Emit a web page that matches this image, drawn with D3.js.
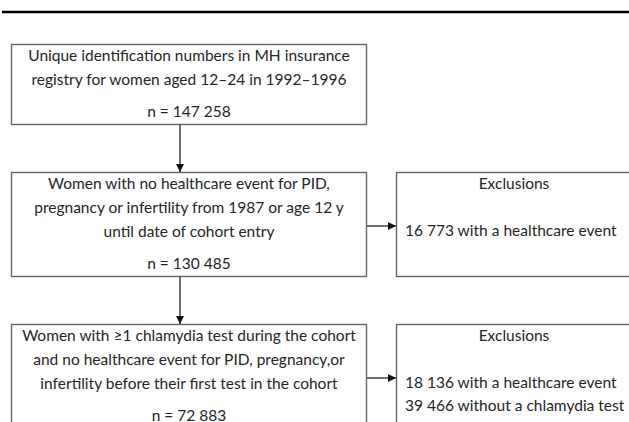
<!DOCTYPE html>
<html>
<head>
<meta charset="utf-8">
<script src="https://cdn.jsdelivr.net/npm/d3@7"></script>
<style>
  body { margin: 0; background: #fff; }
  svg { display: block; }
  text { font-family: Lato, "Open Sans", sans-serif; fill: #262626; }
</style>
</head>
<body>
<div id="chart"></div>
<script>
// flow steps (main column)
const stepLines = [
  ["Unique identification numbers in MH insurance", "registry  for women aged 12\u201324 in 1992\u20131996"],
  ["Women with no healthcare event for PID,", "pregnancy or infertility from 1987 or age 12 y", "until date of cohort entry"],
  ["Women with \u22651 chlamydia test during the cohort", "and no healthcare event for PID, pregnancy,or", "infertility before their first test in the cohort"]
];
const stepCounts = ["n = 147 258", "n = 130 485", "n = 72 883"];

// exclusions, keyed to the step they lead away from
const exclusionTitle = "Exclusions";
const exclusionLines = [
  null,
  ["16 773 with a healthcare event"],
  ["18 136 with a healthcare event", "39 466 without a chlamydia test"]
];

const width = 629, height = 422;
const svg = d3.select("#chart").append("svg")
    .attr("width", width)
    .attr("height", height);

// arrow head
svg.append("defs").append("marker")
    .attr("id", "head")
    .attr("viewBox", "0 0 10 10")
    .attr("refX", 10).attr("refY", 5)
    .attr("markerWidth", 8).attr("markerHeight", 8)
    .attr("markerUnits", "userSpaceOnUse")
    .attr("orient", "auto")
  .append("path")
    .attr("d", "M0,0L10,5L0,10Z")
    .attr("fill", "#111");

// top rule
svg.append("line")
    .attr("x1", 2).attr("x2", width)
    .attr("y1", 12).attr("y2", 12)
    .attr("stroke", "#000")
    .attr("stroke-width", 2.5);

const lineH = 24, pad = 11.5, nGap = 32, gap = 48;
const boxX = 11, boxW = 355, stemX = 180;
const exX = 396, exW = 250;

// box layout from the number of lines
let y = 44;
const boxes = stepLines.map((lines, i) => {
  const h = lines.length * lineH + nGap;
  const b = { i, lines, n: stepCounts[i], y, h };
  y += h + gap;
  return b;
});

// font size picked so the widest line fits like in the reference
const probe = svg.append("text").style("font-size", "100px").text(stepLines[0][0]);
const fs = 100 * 322 / probe.node().getComputedTextLength();
probe.remove();

const g = svg.selectAll("g.step")
  .data(boxes)
  .join("g")
    .attr("class", "step")
    .attr("transform", d => `translate(0,${d.y})`);

g.append("rect")
    .attr("x", boxX + 0.5).attr("y", 0.5)
    .attr("width", boxW).attr("height", d => d.h)
    .attr("fill", "none")
    .attr("stroke", "#666")
    .attr("stroke-width", 1.4);

g.selectAll("text.line")
  .data(d => d.lines)
  .join("text")
    .attr("class", "line")
    .attr("x", boxX + boxW / 2 + 0.5)
    .attr("y", (d, j) => pad + j * lineH)
    .attr("dy", "0.35em")
    .attr("text-anchor", "middle")
    .style("font-size", fs + "px")
    .text(d => d);

g.append("text")
    .attr("x", boxX + boxW / 2 + 0.5)
    .attr("y", d => pad + (d.lines.length - 1) * lineH + nGap)
    .attr("dy", "0.35em")
    .attr("text-anchor", "middle")
    .style("font-size", fs + "px")
    .text(d => d.n);

// vertical arrows between steps
boxes.slice(1).forEach((b, k) => {
  const prev = boxes[k];
  svg.append("line")
      .attr("x1", stemX).attr("x2", stemX)
      .attr("y1", prev.y + prev.h + 1).attr("y2", b.y)
      .attr("stroke", "#222")
      .attr("stroke-width", 1.3)
      .attr("marker-end", "url(#head)");
});

// exclusion boxes
const ex = boxes.filter(b => exclusionLines[b.i]);
const eg = svg.selectAll("g.excl")
  .data(ex)
  .join("g")
    .attr("class", "excl")
    .attr("transform", d => `translate(0,${d.y})`);

eg.append("rect")
    .attr("x", exX + 0.5).attr("y", 0.5)
    .attr("width", exW).attr("height", d => d.h)
    .attr("fill", "none")
    .attr("stroke", "#666")
    .attr("stroke-width", 1.4);

eg.append("text")
    .attr("x", 514)
    .attr("y", pad)
    .attr("dy", "0.35em")
    .attr("text-anchor", "middle")
    .style("font-size", fs + "px")
    .text(exclusionTitle);

eg.selectAll("text.ex")
  .data(d => exclusionLines[d.i])
  .join("text")
    .attr("class", "ex")
    .attr("x", exX + 9)
    .attr("y", (d, j) => 59 + j * 23)
    .attr("dy", "0.35em")
    .style("font-size", fs + "px")
    .text(d => d);

eg.append("line")
    .attr("x1", boxX + boxW + 1).attr("x2", exX)
    .attr("y1", d => d.h / 2 + 2).attr("y2", d => d.h / 2 + 2)
    .attr("stroke", "#222")
    .attr("stroke-width", 1.3)
    .attr("marker-end", "url(#head)");
</script>
</body>
</html>
